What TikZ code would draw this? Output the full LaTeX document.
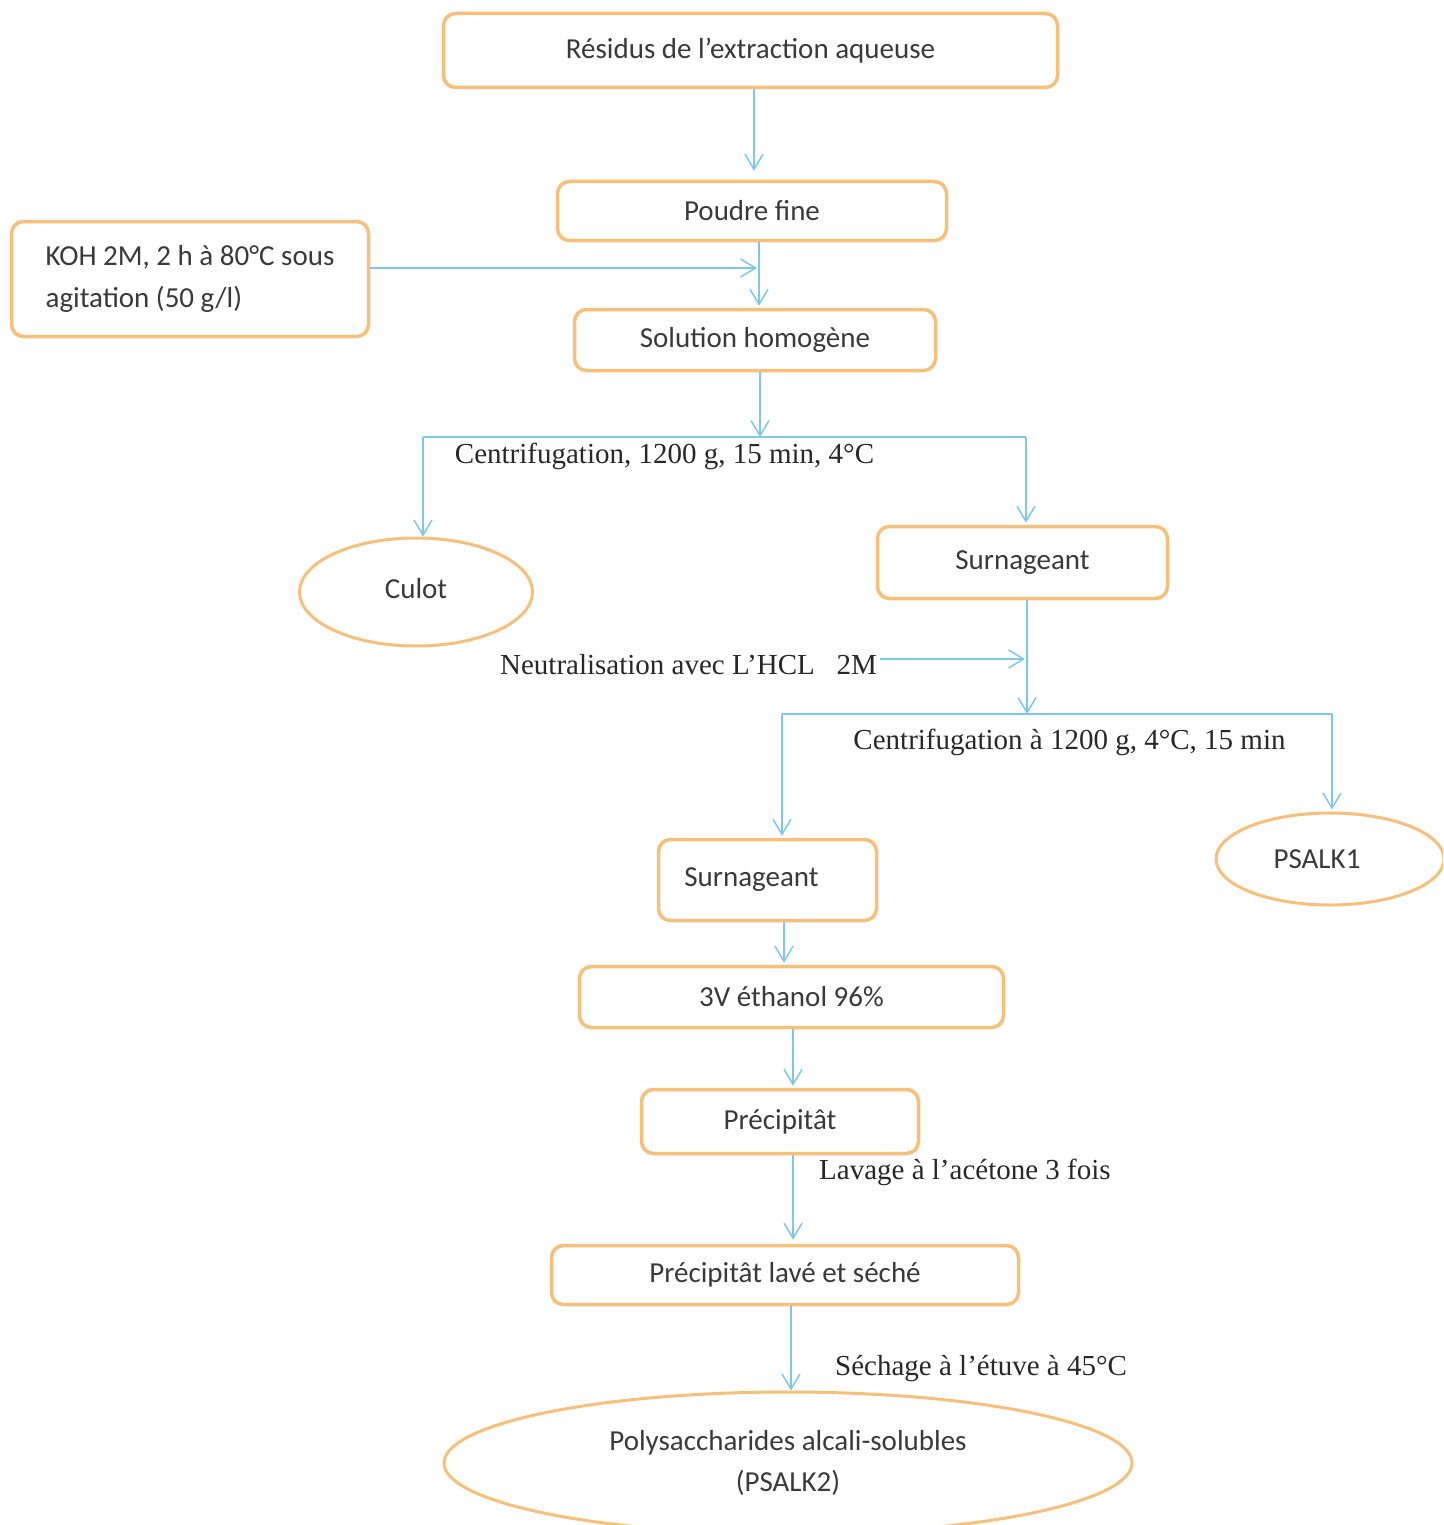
\documentclass[tikz,border=0pt]{standalone}
\usepackage{fontspec}
\setmainfont{Carlito}
\newfontfamily\timesf{Liberation Serif}
\usetikzlibrary{arrows.meta,shapes.geometric}
\definecolor{boxor}{RGB}{246,192,122}
\definecolor{lineblue}{RGB}{125,200,232}
\definecolor{txt}{RGB}{58,58,58}
\definecolor{txtb}{RGB}{40,40,40}
\begin{document}
\begin{tikzpicture}[x=1pt,y=-1pt,
  box/.style={draw=boxor,line width=3.5pt,rounded corners=12pt,fill=white,text=txt,
    font=\fontsize{29}{35}\selectfont,inner sep=0pt},
  oval/.style={ellipse,draw=boxor,line width=3pt,fill=white,text=txt,
    font=\fontsize{29}{41}\selectfont,inner sep=0pt},
  flow/.style={draw=lineblue,line width=1.5pt,-{Straight Barb[length=15pt,width=18pt,line width=1.5pt]}},
  plain/.style={draw=lineblue,line width=1.5pt},
  lab/.style={font=\timesf\fontsize{29}{32}\selectfont,text=txtb,inner sep=0pt}]
\useasboundingbox (0,0) rectangle (1443,1525);
\clip (0,0) rectangle (1443,1525);
\fill[white] (0,0) rectangle (1443,1525);

% nodes
\node[box,minimum width=614pt,minimum height=74pt] (b1) at (750.5,50.5) {\raisebox{1pt}{Résidus de l’extraction aqueuse}};
\node[box,minimum width=389pt,minimum height=59pt] (b2) at (752,211) {\raisebox{-2pt}{Poudre fine}};
\node[box,minimum width=357pt,minimum height=115pt,align=left,
      font=\fontsize{29}{42}\selectfont] (koh) at (190,279) {KOH 2M, 2 h à 80°C sous\\agitation (50 g/l)};
\node[box,minimum width=361pt,minimum height=61pt] (b3) at (755,340) {\raisebox{-3pt}{Solution homogène}};
\node[oval,minimum width=233pt,minimum height=108pt] (culot) at (416,592) {\raisebox{8pt}{Culot}};
\node[box,minimum width=290pt,minimum height=72pt] (s1) at (1022.5,562.5) {Surnageant};
\node[box,minimum width=218pt,minimum height=81pt] (s2) at (767.5,880) {\raisebox{3pt}{Surnageant}\hspace*{32pt}};
\node[oval,minimum width=228pt,minimum height=92pt] (ps1) at (1330,859) {PSALK1\hspace*{26pt}};
\node[box,minimum width=424pt,minimum height=61pt] (eth) at (791.5,997) {3V éthanol 96\%};
\node[box,minimum width=277pt,minimum height=64pt] (prec) at (780,1121.5) {Précipitât};
\node[box,minimum width=467pt,minimum height=59pt] (prl) at (785,1275) {\raisebox{-3pt}{Précipitât lavé et séché}};
\node[oval,minimum width=688pt,minimum height=142pt,align=center] (fin) at (788,1463) {Polysaccharides alcali-solubles\\(PSALK2)};

% coordinates
\coordinate (j1) at (759,268);
\coordinate (c1) at (760,437);
\coordinate (c1L) at (423,437);
\coordinate (c1R) at (1026,437);
\coordinate (c2) at (1027,714);
\coordinate (c2L) at (782,714);
\coordinate (c2R) at (1332,714);

% labels
\node[lab] (lc1) at (664.5,456) {Centrifugation, 1200 g, 15 min, 4°C};
\node[lab,anchor=east] (ln) at (877,665) {Neutralisation avec L’HCL\ \ \ 2M};
\node[lab] (lc2) at (1069.5,742) {Centrifugation à 1200 g, 4°C, 15 min};
\node[lab,anchor=west] (lav) at (819,1172) {Lavage à l’acétone 3 fois};
\node[lab,anchor=west] (sec) at (835,1369) {Séchage à l’étuve à 45°C};

% connectors
\draw[flow,shorten >=9pt] ([xshift=3.5pt]b1.south) -- ([xshift=3.5pt]b1.south |- b2.north);
\draw[flow,shorten >=2pt] (koh.east |- j1) -- (j1);
\draw[flow,shorten >=2pt] (b2.south -| j1) -- (b3.north -| j1);
\draw[flow] (b3.south -| c1) -- (c1);
\draw[plain] (c1L) -- (c1R);
\draw[flow] (c1L) -- (c1L |- culot.north);
\draw[flow,shorten >=2pt] (c1R) -- (c1R |- s1.north);
\draw[flow] (s1.south -| c2) -- (c2);
\draw[flow,shorten >=2pt] ([yshift=6pt,xshift=3pt]ln.east) -- ([yshift=6pt]ln.east -| c2);
\draw[plain] (c2L) -- (c2R);
\draw[flow,shorten >=2pt] (c2L) -- (c2L |- s2.north);
\draw[flow,shorten >=2pt] (c2R) -- (c2R |- ps1.north);
\draw[flow,shorten >=2pt] ([xshift=16.5pt]s2.south) -- ([xshift=16.5pt]s2.south |- eth.north);
\draw[flow,shorten >=2pt] ([xshift=1.5pt]eth.south) -- ([xshift=1.5pt]eth.south |- prec.north);
\draw[flow,shorten >=4pt] ([xshift=13pt]prec.south) -- ([xshift=13pt]prec.south |- prl.north);
\draw[flow] ([xshift=6pt]prl.south) -- ([xshift=6pt]prl.south |- fin.north);
\end{tikzpicture}
\end{document}
